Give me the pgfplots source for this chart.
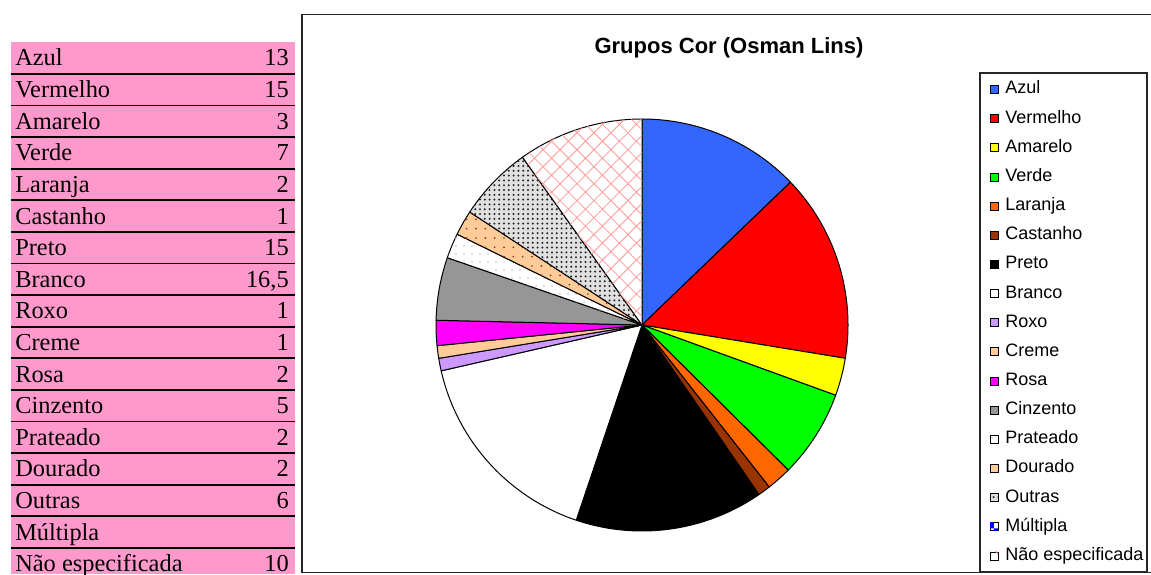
\documentclass[border=0pt]{standalone}
\usepackage{fontspec}
\setmainfont{Liberation Serif}
\newfontfamily\arial{Liberation Sans}
\usepackage{pgfplots}
\pgfplotsset{compat=1.18}
\usepackage{pgfplotstable}
\usetikzlibrary{patterns,patterns.meta}

\definecolor{cAzul}{HTML}{3366FF}
\definecolor{cVermelho}{HTML}{FF0000}
\definecolor{cAmarelo}{HTML}{FFFF00}
\definecolor{cVerde}{HTML}{00FF00}
\definecolor{cLaranja}{HTML}{FF6600}
\definecolor{cCastanho}{HTML}{993300}
\definecolor{cRoxo}{HTML}{CC99FF}
\definecolor{cCreme}{HTML}{FFCC99}
\definecolor{cRosa}{HTML}{FF00FF}
\definecolor{cCinzento}{HTML}{969696}
\definecolor{tablepink}{HTML}{FF99CC}

\pgfplotstableread[col sep=comma]{
cat,value
Azul,13
Vermelho,15
Amarelo,3
Verde,7
Laranja,2
Castanho,1
Preto,15
Branco,16.5
Roxo,1
Creme,1
Rosa,2
Cinzento,5
Prateado,2
Dourado,2
Outras,6
Múltipla,0
Não especificada,10
}\cores

\tikzset{
 s0/.style={fill=cAzul},
 s1/.style={fill=cVermelho},
 s2/.style={fill=cAmarelo},
 s3/.style={fill=cVerde},
 s4/.style={fill=cLaranja},
 s5/.style={fill=cCastanho},
 s6/.style={fill=black},
 s7/.style={fill=white},
 s8/.style={fill=cRoxo},
 s9/.style={fill=cCreme},
 s10/.style={fill=cRosa},
 s11/.style={fill=cCinzento},
 s12/.style={fill=white, postaction={pattern={Dots[distance=6pt,radius=0.7pt]}, pattern color=black!25}},
 s13/.style={fill=cCreme, postaction={pattern={Dots[distance=7pt,radius=0.7pt]}, pattern color=cCastanho}},
 s14/.style={fill=black!12, postaction={pattern={Dots[distance=3.6pt,radius=0.85pt]}, pattern color=black!85}},
 s15/.style={fill=white, postaction={pattern=checkerboard, pattern color=blue}},
 s16/.style={fill=white, postaction={pattern={Hatch[distance=9pt,angle=45,line width=0.6pt]}, pattern color=red!40}},
}

\newcommand\tabfont{\fontsize{18.3}{22}\selectfont}
\newcommand\legfont{\arial\fontsize{13.5}{16}\selectfont}
\def\pieR{154.5pt}

\begin{document}
\begin{tikzpicture}[x=0.75pt,y=-0.75pt]
\useasboundingbox (0,0) rectangle (1151,574);
% table
\fill[tablepink] (11,42.3) rectangle (295,574);
\foreach \k in {1,...,16}{
  \pgfmathsetmacro\yy{42.3+31.6*\k}
  \draw[line width=1.3pt] (11,\yy) -- (295,\yy);
}
% chart frame
\draw[line width=0.8pt, black!85] (1152,14.5) -- (302,14.5) -- (302,572.5) -- (1152,572.5);
\node[anchor=base, inner sep=0, font=\arial\bfseries\fontsize{16.5}{19}\selectfont] at (729,54) {Grupos Cor (Osman Lins)};
% legend box
\draw[line width=0.8pt, black!85] (980,73) rectangle (1147,571.5);

\foreach \i in {0,...,16}{
  \pgfplotstablegetelem{\i}{cat}\of{\cores}\let\nm\pgfplotsretval
  \pgfplotstablegetelem{\i}{value}\of{\cores}\let\val\pgfplotsretval
  \pgfmathsetmacro\yb{42.3+31.6*\i+23.7}
  \node[anchor=base west, inner sep=0, font=\tabfont] at (15,\yb) {\nm};
  \pgfmathtruncatemacro\pos{\val>0}
  \ifnum\pos>0
    \node[anchor=base east, inner sep=0, font=\tabfont] at (289,\yb) {\pgfmathprintnumber[use comma,assume math mode=true]{\val}};
  \fi
  \pgfmathsetmacro\yl{94+29.15*\i}
  \draw[s\i, draw=black, line width=0.6pt] (990,\yl-8.5) rectangle (998,\yl-0.5);
  \node[anchor=base west, inner sep=0, font=\legfont] at (1005,\yl) {\nm};
}

\coordinate (pc) at (642,325);
\begin{axis}[at={(pc)}, anchor=center,
  width=309pt, height=309pt, scale only axis, hide axis,
  xmin=-1, xmax=1, ymin=-1, ymax=1, clip=false]
\addplot[draw=none, mark=none] coordinates {(0,0)};
\pgfplotsextra{
  \pgfplotstablegetrowsof{\cores}\pgfmathtruncatemacro\nlast{\pgfplotsretval-1}
  \gdef\tot{0}
  \foreach \i in {0,...,\nlast}{
    \pgfplotstablegetelem{\i}{value}\of{\cores}
    \pgfmathsetmacro\tsum{\tot+\pgfplotsretval}\xdef\tot{\tsum}}
  \pgfmathsetmacro\degper{360/\tot}\xdef\degper{\degper}
  \gdef\cum{0}
  \foreach \i in {0,...,\nlast}{
    \pgfplotstablegetelem{\i}{value}\of{\cores}\let\val\pgfplotsretval
    \pgfmathsetmacro\angA{90-\degper*\cum}
    \pgfmathsetmacro\angB{90-\degper*(\cum+\val)}
    \pgfmathtruncatemacro\pos{\val>0}
    \ifnum\pos>0
      \draw[s\i, draw=black, line width=0.75pt, line join=round]
        (axis cs:0,0) -- (axis cs:{cos(\angA)},{sin(\angA)})
        arc[start angle=\angA, end angle=\angB, radius=\pieR] -- cycle;
    \fi
    \pgfmathsetmacro\cc{\cum+\val}\xdef\cum{\cc}
  }
}
\end{axis}
\end{tikzpicture}
\end{document}
